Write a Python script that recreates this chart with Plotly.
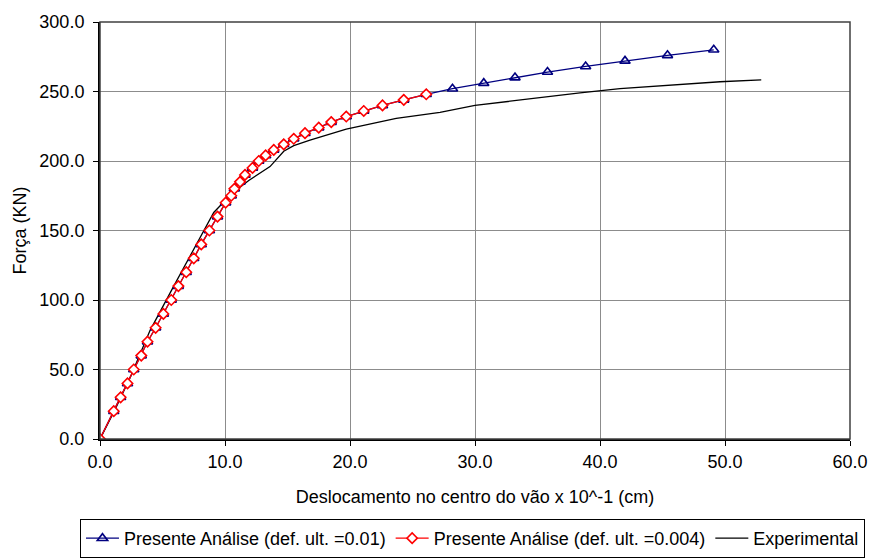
import plotly.graph_objects as go

# Presente Análise (def. ult. = 0.004)
x_red = [0, 1.1, 1.65, 2.2, 2.7, 3.3, 3.8, 4.45, 5.07, 5.7, 6.27, 6.9, 7.5, 8.1, 8.75,
         9.4, 10.05, 10.5, 10.75, 11.2, 11.6, 12.2, 12.7, 13.25, 13.9, 14.7, 15.5, 16.4,
         17.5, 18.5, 19.7, 21.1, 22.6, 24.3, 26.1]
y_red = [0, 20, 30, 40, 50, 60, 70, 80, 90, 100, 110, 120, 130, 140, 150,
         160, 170, 175, 180, 185, 190, 195, 200, 204, 208, 212, 216, 220,
         224, 228, 232, 236, 240, 244, 248]

# Presente Análise (def. ult. = 0.01)
x_blue = x_red + [28.2, 30.7, 33.2, 35.8, 38.85, 42.0, 45.4, 49.1]
y_blue = y_red + [252, 256, 260, 264, 268, 272, 276, 280]

# Experimental
x_exp = [0, 1.2, 2.5, 4.0, 5.9, 8.3, 9.1, 9.9, 10.4, 11.9, 13.6, 14.7, 15.5, 16.8,
         18.7, 19.7, 23.7, 27.2, 30.0, 33.6, 38.4, 41.6, 49.6, 52.9]
y_exp = [0, 21, 46, 78, 110, 150, 163, 170.5, 175.5, 186, 196, 207, 211, 215,
         220.5, 223, 230.7, 235, 240, 244, 249, 252, 257, 258.4]

x_ticks = [0, 10, 20, 30, 40, 50, 60]
y_ticks = [0, 50, 100, 150, 200, 250, 300]

FONT = "Liberation Sans, Arial, sans-serif"
FS = 18

fig = go.Figure()
fig.add_trace(go.Scatter(
    x=x_exp, y=y_exp, mode="lines", name="Experimental",
    line=dict(color="black", width=1.3), legendrank=3))
fig.add_trace(go.Scatter(
    x=x_blue, y=y_blue, mode="lines+markers",
    name="Presente Análise (def. ult. =0.01)",
    line=dict(color="#000080", width=1.3),
    marker=dict(symbol="triangle-up-open", size=9, color="#000080",
                line=dict(width=1.6, color="#000080")),
    legendrank=1))
fig.add_trace(go.Scatter(
    x=x_red, y=y_red, mode="lines+markers",
    name="Presente Análise (def. ult. =0.004)",
    line=dict(color="#FF0000", width=1.3),
    marker=dict(symbol="diamond", size=8, color="white",
                line=dict(width=1.6, color="#FF0000")),
    legendrank=2))

fig.update_layout(
    width=870, height=560,
    margin=dict(l=100, r=20, t=22, b=121, autoexpand=False),
    paper_bgcolor="white", plot_bgcolor="white",
    font=dict(family=FONT, size=FS, color="black"),
    showlegend=True,
    legend=dict(orientation="h", x=-0.0267, xanchor="left", y=-0.1918, yanchor="top",
                bordercolor="black", borderwidth=1, bgcolor="white",
                font=dict(size=FS, family=FONT), itemwidth=33,
                tracegroupgap=0, traceorder="normal"),
    xaxis=dict(range=[0, 60], tickvals=x_ticks, tickformat=".1f",
               showgrid=True, gridcolor="#8c8c8c", gridwidth=1,
               showline=True, linecolor="black", linewidth=2, mirror=False,
               ticks="outside", ticklen=5, tickcolor="black",
               zeroline=False, automargin=False,
               title=dict(text="Deslocamento no centro do vão x 10^-1 (cm)",
                          font=dict(size=FS), standoff=20),
               tickfont=dict(size=FS)),
    yaxis=dict(range=[0, 300], tickvals=y_ticks, tickformat=".1f",
               showgrid=True, gridcolor="#8c8c8c", gridwidth=1,
               showline=True, linecolor="black", linewidth=2, mirror=False,
               ticks="outside", ticklen=5, tickcolor="black",
               zeroline=False, automargin=False, ticklabelstandoff=5,
               title=dict(text="Força (KN)", font=dict(size=FS), standoff=8),
               tickfont=dict(size=FS)),
)
# plot frame top/right
fig.add_shape(type="rect", xref="paper", yref="paper", x0=0, y0=0, x1=1, y1=1,
              line=dict(color="#404040", width=1.5), layer="above")

fig.write_html("out.html", config={"displayModeBar": False},
               post_script="document.body.style.margin='0';document.body.style.overflow='hidden';")
